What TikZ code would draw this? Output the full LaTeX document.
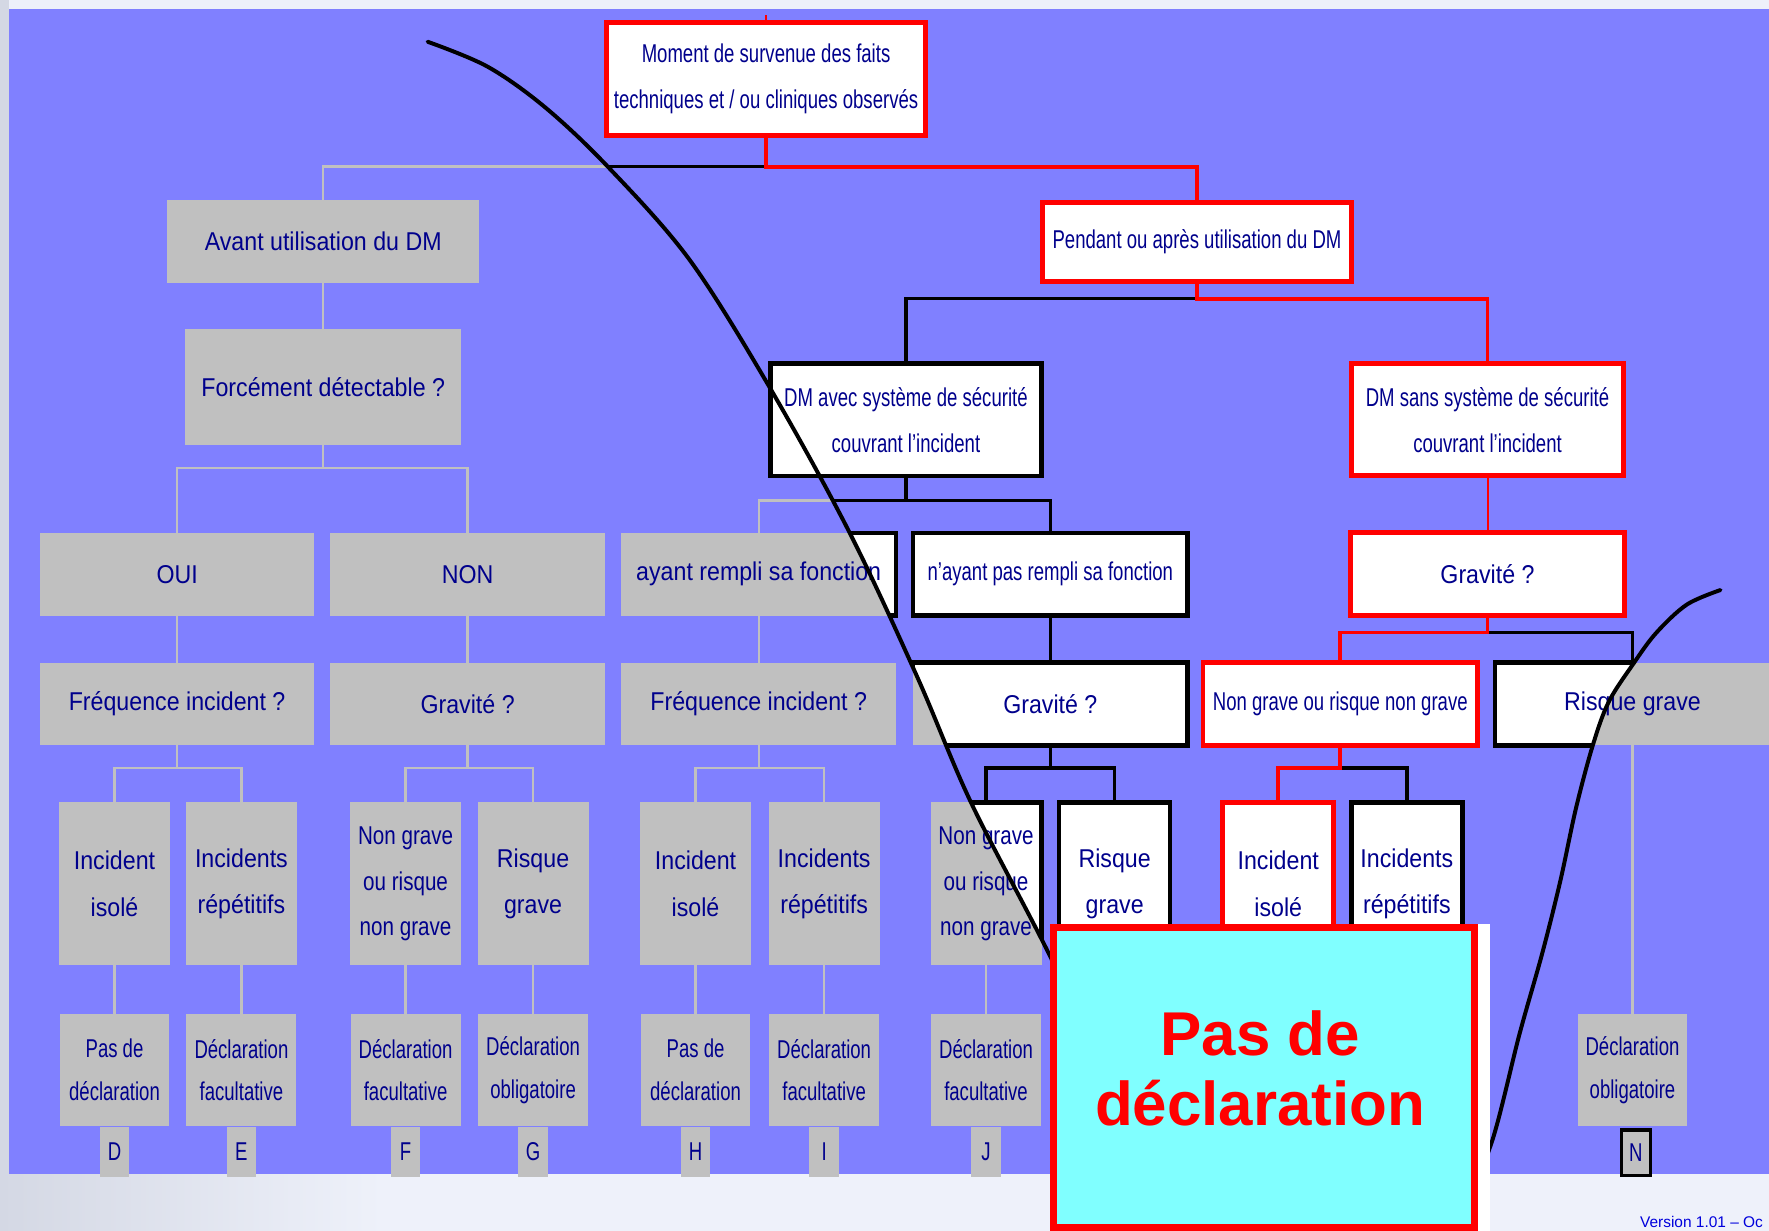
\documentclass[tikz,border=0pt]{standalone}
\usepackage{fontspec}
\setmainfont{Liberation Sans}
\newfontfamily\regfont[FakeStretch=0.9]{Liberation Sans}
\newfontfamily\midfont[FakeStretch=0.8]{Liberation Sans}
\newfontfamily\narfont[FakeStretch=0.72]{Liberation Sans}
\usetikzlibrary{positioning,backgrounds}

\definecolor{slide}{RGB}{128,128,255}
\definecolor{pagebg}{RGB}{238,241,250}
\definecolor{edgegray}{RGB}{212,216,228}
\definecolor{boxgray}{RGB}{192,192,192}
\definecolor{navy}{RGB}{0,0,140}
\definecolor{aqua}{RGB}{128,255,255}
\definecolor{verblue}{RGB}{0,0,220}

% contour of the zone that is kept
\newcommand\valleyplot{plot[smooth,tension=0.55] coordinates {(379,37) (432,59) (483,95) (539,148) (611,230) (682,343) (753,472) (813,600) (861,712) (931,848) (990,975) (1080,1060) (1200,1075) (1295,1060) (1321,1016) (1347,916) (1367,845) (1383,781) (1397,716) (1412,660) (1426,622) (1448,588) (1468,561) (1495,536) (1525,523)}}

\begin{document}
\begin{tikzpicture}[x=0.1mm, y=-0.1mm,
    box/.style={rectangle, inner sep=0pt, align=center, text=navy},
    regtext/.style={font=\regfont\fontsize{6.5}{11.8}\selectfont},
    nartext/.style={font=\narfont\fontsize{6.5}{11.6}\selectfont},
    midtext/.style={font=\midfont\fontsize{6.5}{11.5}\selectfont},
    decltext/.style={font=\narfont\fontsize{6.5}{10.8}\selectfont},
    wide/.style={minimum width=24.2mm, minimum height=7.2mm},
    dmbox/.style={minimum width=23.9mm, minimum height=9.8mm},
    tall/.style={minimum width=9.7mm, minimum height=14.3mm},
    decl/.style={minimum width=9.6mm, minimum height=9.8mm},
    lettertab/.style={box, decltext, fill=boxgray, minimum width=2.6mm, minimum height=4.4mm},
    graylink/.style={draw=boxgray, line width=0.6pt},
    darklink/.style={draw=black, line width=0.85pt},
    redlink/.style={draw=red, line width=0.95pt},
    redthin/.style={draw=red, line width=0.5pt},
    inbox/.style={fill=white, draw=black, line width=1.1pt},
    redbox/.style={fill=white, draw=red, line width=1.25pt},
    valley/.style={draw=black, line width=1pt, line cap=round},
    bigbox/.style={draw=red, fill=aqua, line width=1.85pt, inner sep=0pt,
        minimum width=37.3mm, minimum height=26.6mm},
    bigtext/.style={align=center, text=red, font=\bfseries\fontsize{15.6}{17.6}\selectfont}]

    \useasboundingbox (0,0) rectangle (1568,1091);

    % Top of the tree
    \node[box, nartext, minimum width=28.1mm, minimum height=9.8mm] (moment) at (679,70)
        {Moment de survenue des faits\\techniques et / ou cliniques observés};
    \node[box, regtext, minimum width=27.5mm, minimum height=7.2mm] (avant) at (286.5,214) {Avant utilisation du DM};
    \node[box, nartext, minimum width=27.2mm, minimum height=6.9mm] (pendant) at (1061,214.5) {Pendant ou après utilisation du DM};
    \node[box, regtext, minimum width=24.3mm, minimum height=10.2mm] (detect) at (286.5,343) {Forcément détectable ?};
    \node[box, nartext, dmbox] (avec) at (803,372) {DM avec système de sécurité\\couvrant l’incident};
    \node[box, nartext, dmbox] (sans) at (1318.5,372) {DM sans système de sécurité\\couvrant l’incident};

    % Second and third rows
    \node[box, regtext, wide] (oui) at (157,509) {OUI};
    \node[box, regtext, wide] (non) at (414.5,509) {NON};
    \node[box, regtext, wide] (rempli) at (672.5,509) {ayant rempli sa fonction};
    \node[box, nartext, wide] (nonrempli) at (931,509) {n’ayant pas rempli sa fonction};
    \node[box, regtext, wide] (gravR) at (1318.5,509) {Gravité ?};
    \node[box, regtext, wide] (freqA) at (157,624) {Fréquence incident ?};
    \node[box, regtext, wide] (gravA) at (414.5,624) {Gravité ?};
    \node[box, regtext, wide] (freqB) at (672.5,624) {Fréquence incident ?};
    \node[box, regtext, wide] (gravB) at (931,624) {Gravité ?};
    \node[box, nartext, wide] (nongR) at (1188,624) {Non grave ou risque non grave};
    \node[box, regtext, wide] (risqR) at (1447,624) {Risque grave};

    % Leaves
    \node[box, regtext, tall] (isoleA) at (101.5,783.5) {Incident\\isolé};
    \node[box, regtext, tall] (repetA) at (214,783.5) {Incidents\\répétitifs};
    \node[box, midtext, tall] (nongA) at (359.5,783.5) {Non grave\\ou risque\\non grave};
    \node[box, regtext, tall] (risqA) at (472.5,783.5) {Risque\\grave};
    \node[box, regtext, tall] (isoleB) at (616.5,783.5) {Incident\\isolé};
    \node[box, regtext, tall] (repetB) at (730.5,783.5) {Incidents\\répétitifs};
    \node[box, midtext, tall] (nongB) at (874,783.5) {Non grave\\ou risque\\non grave};
    \node[box, regtext, tall] (risqB) at (988,783.5) {Risque\\grave};
    \node[box, regtext, tall] (isoleR) at (1133,783.5) {Incident\\isolé};
    \node[box, regtext, tall] (repetR) at (1247,783.5) {Incidents\\répétitifs};

    % Outcomes
    \node[box, decltext, decl] (pasD) at (101.5,948.5) {Pas de\\déclaration};
    \node[box, decltext, decl] (facE) at (214,948.5) {Déclaration\\facultative};
    \node[box, decltext, decl] (facF) at (359.5,948.5) {Déclaration\\facultative};
    \node[box, decltext, decl] (oblG) at (472.5,948.5) {Déclaration\\obligatoire};
    \node[box, decltext, decl] (pasH) at (616.5,948.5) {Pas de\\déclaration};
    \node[box, decltext, decl] (facI) at (730.5,948.5) {Déclaration\\facultative};
    \node[box, decltext, decl] (facJ) at (874,948.5) {Déclaration\\facultative};
    \node[box, decltext, decl] (oblN) at (1447,948.5) {Déclaration\\obligatoire};

    \node[lettertab, below=0pt of pasD] (tabD) {D};
    \node[lettertab, below=0pt of facE] (tabE) {E};
    \node[lettertab, below=0pt of facF] (tabF) {F};
    \node[lettertab, below=0pt of oblG] (tabG) {G};
    \node[lettertab, below=0pt of pasH] (tabH) {H};
    \node[lettertab, below=0pt of facI] (tabI) {I};
    \node[lettertab, below=0pt of facJ] (tabJ) {J};
    \node[lettertab, draw=black, line width=0.8pt, minimum height=4mm,
        below=0.2mm of oblN, xshift=0.3mm] (tabN) {N};

    % Connectors
    \def\treelinks{
        (moment.south) -- ++(0,28) -| (avant.north)
        (avant.south) -- (detect.north)
        (detect.south) -- ++(0,20) -| (oui.north)
        (detect.south) -- ++(0,20) -| (non.north)
        (oui.south) -- (freqA.north)
        (non.south) -- (gravA.north)
        (freqA.south) -- ++(0,20) -| (isoleA.north)
        (freqA.south) -- ++(0,20) -| (repetA.north)
        (gravA.south) -- ++(0,20) -| (nongA.north)
        (gravA.south) -- ++(0,20) -| (risqA.north)
        (isoleA.south) -- (pasD.north)
        (repetA.south) -- (facE.north)
        (nongA.south) -- (facF.north)
        (risqA.south) -- (oblG.north)
        (pendant.south) -- ++(0,15) -| (avec.north)
        (avec.south) -- ++(0,22) -| (rempli.north)
        (avec.south) -- ++(0,22) -| (nonrempli.north)
        (rempli.south) -- (freqB.north)
        (nonrempli.south) -- (gravB.north)
        (freqB.south) -- ++(0,20) -| (isoleB.north)
        (freqB.south) -- ++(0,20) -| (repetB.north)
        (gravB.south) -- ++(0,20) -| (nongB.north)
        (gravB.south) -- ++(0,20) -| (risqB.north)
        (isoleB.south) -- (pasH.north)
        (repetB.south) -- (facI.north)
        (nongB.south) -- (facJ.north)
        (gravR.south) -- ++(0,15) -| (risqR.north)
        (nongR.south) -- ++(0,20) -| (repetR.north)
        (risqR.south) -- (oblN.north)
    }

    \begin{pgfonlayer}{background}
        % Slide
        \fill[pagebg] (0,0) rectangle (1568,1091);
        \fill[edgegray] (0,0) rectangle (8,1041);
        \shade[left color=edgegray, right color=pagebg] (0,1041) rectangle (340,1091);
        \fill[slide] (8,8) rectangle (1568,1041);

        % Whole tree in grey
        \draw[graylink] \treelinks;
        \foreach \n in {moment,avant,pendant,detect,avec,sans,oui,non,rempli,nonrempli,gravR,
                freqA,gravA,freqB,gravB,nongR,risqR,isoleA,repetA,nongA,risqA,isoleB,repetB,
                nongB,risqB,isoleR,repetR,pasD,facE,facF,oblG,pasH,facI,facJ,oblN}
            \fill[boxgray] (\n.south west) rectangle (\n.north east);

        % Inside the curve: white boxes, black lines
        \begin{scope}
            \clip \valleyplot -- (1525,-30) -- (379,-30) -- cycle;
            \draw[darklink] \treelinks;
            \foreach \n in {moment,pendant,sans,rempli,nonrempli,gravR,gravB,nongR,risqR,
                    nongB,risqB,isoleR,repetR}
                \draw[inbox] (\n.south west) rectangle (\n.north east);
        \end{scope}
        \draw[inbox] (avec.south west) rectangle (avec.north east);

        % Highlighted path
        \draw[redthin] (moment.north) -- ++(0,-7);
        \draw[redlink] (moment.south) -- ++(0,28) -| (pendant.north);
        \draw[redlink] (pendant.south) -- ++(0,15) -| (sans.north);
        \draw[redthin] (sans.south) -- (gravR.north);
        \draw[redlink] (gravR.south) -- ++(0,15) -| (nongR.north);
        \draw[redlink] (nongR.south) -- ++(0,20) -| (isoleR.north);
        \foreach \n in {moment,pendant,sans,gravR,nongR,isoleR}
            \draw[redbox] (\n.south west) rectangle (\n.north east);
    \end{pgfonlayer}

    % The curve
    \draw[valley] \valleyplot;

    % Result box
    \fill[white] (1290,819) rectangle (1321,1091);
    \node[bigbox] (nodecl) at (1120.5,955) {};
    \node[bigtext] (nodecltext) at (1117,947) {Pas de\\déclaration};

    \node[anchor=base west, inner sep=0pt, text=verblue, font=\fontsize{3.9}{5}\selectfont]
        (version) at (1453,1088) {Version 1.01 – Oc};
\end{tikzpicture}
\end{document}
